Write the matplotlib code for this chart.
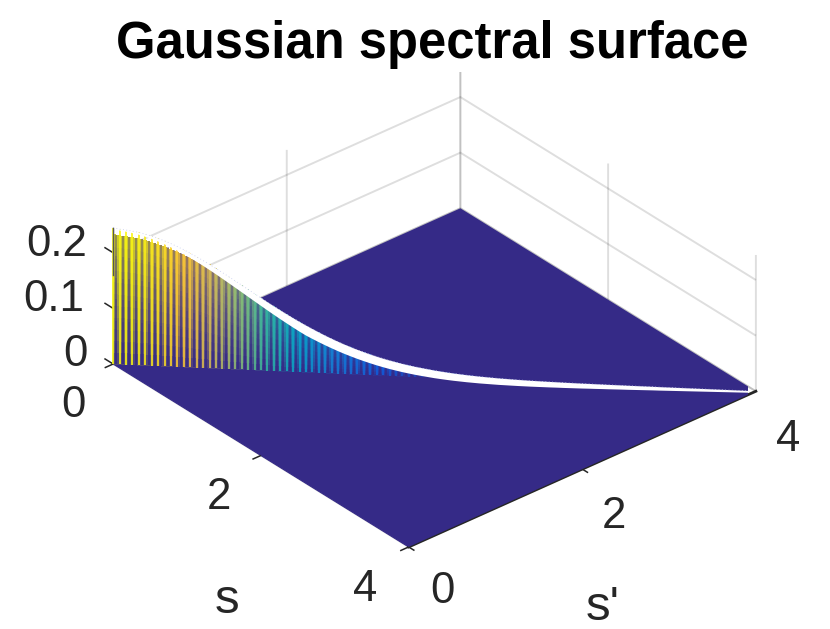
import numpy as np
import matplotlib
matplotlib.use('Agg')
import matplotlib.pyplot as plt
from matplotlib.colors import LinearSegmentedColormap, to_rgb
from mpl_toolkits.mplot3d.art3d import Line3DCollection, Poly3DCollection

# height of the ridge along s = s', read every 0.04 from 0 to 4
ridge = [0.2450, 0.2430, 0.2419, 0.2404, 0.2385, 0.2359, 0.2329, 0.2293, 0.2253, 0.2208,
         0.2159, 0.2106, 0.2050, 0.1990, 0.1928, 0.1863, 0.1796, 0.1727, 0.1657, 0.1586,
         0.1515, 0.1443, 0.1372, 0.1301, 0.1230, 0.1161, 0.1093, 0.1027, 0.0962, 0.0899,
         0.0839, 0.0781, 0.0725, 0.0671, 0.0620, 0.0571, 0.0525, 0.0482, 0.0441, 0.0403,
         0.0367, 0.0333, 0.0302, 0.0273, 0.0247, 0.0222, 0.0200, 0.0179, 0.0161, 0.0144,
         0.0127, 0.0113, 0.0100, 0.0088, 0.0078, 0.0068, 0.0060, 0.0052, 0.0046, 0.0040,
         0.0034, 0.0030, 0.0026, 0.0022, 0.0019, 0.0016, 0.0014, 0.0012, 0.0010, 0.0009,
         0.0007, 0.0006, 0.0005, 0.0004, 0.0004, 0.0003, 0.0003, 0.0002, 0.0002, 0.0002,
         0.0001, 0.0001, 0.0001, 0.0001, 0.0001, 0.0000, 0.0000, 0.0000, 0.0000, 0.0000,
         0.0000, 0.0000, 0.0000, 0.0000, 0.0000, 0.0000, 0.0000, 0.0000, 0.0000, 0.0000,
         0.0000]
s_ticks = [0, 2, 4]
z_ticks = [0, 0.1, 0.2]
s_tick_labels = ['0', '2', '4']
z_tick_labels = ['0', '0.1', '0.2']
parula_colors = ['#352a87', '#0f5cdd', '#1481d6', '#06a4ca', '#2eb7a4',
                 '#87bf77', '#d1bb59', '#fec832', '#f9fb0e']

plt.rcParams['font.family'] = ['Liberation Sans', 'DejaVu Sans']
plt.rcParams['grid.color'] = (0, 0, 0, 0.13)
plt.rcParams['grid.linewidth'] = 1.4
plt.rcParams['axes.edgecolor'] = '#262626'

parula = LinearSegmentedColormap.from_list('parula', parula_colors)
floor_color = parula_colors[0]
text_color = '#262626'

ridge = np.array(ridge)
s = np.linspace(0, 4, len(ridge))
zmax = ridge.max()

fig = plt.figure(figsize=(8.3, 6.29), dpi=100)
ax = fig.add_axes([103.3 / 830, -11.7 / 629, 645 / 830, 645 / 629],
                  projection='3d', proj_type='ortho', computed_zorder=False)
ax.view_init(elev=31.8, azim=-40.4)
ax.set_box_aspect((455, 455, 160))

# flat part of the surface
X, Y = np.meshgrid([0, 4], [0, 4])
ax.plot_surface(X, Y, np.zeros_like(X, dtype=float), color=floor_color, shade=False,
                linewidth=0, antialiased=True, zorder=1)

# wall under the ridge, mixed with the floor colour towards the base
frac = np.linspace(0, 0.95, 12)
wall_s = np.tile(s, (len(frac), 1))
wall_z = np.outer(frac, ridge)
wall_rgb = parula(ridge[:-1] / zmax)[:, :3]
mix = (0.15 + 0.7 * frac[:-1] ** 0.7)[:, None, None]
wall_faces = np.ones((len(frac) - 1, len(s) - 1, 4))
wall_faces[..., :3] = mix * wall_rgb[None, :, :] + (1 - mix) * np.array(to_rgb(floor_color))
ax.plot_surface(wall_s, wall_s, wall_z, facecolors=wall_faces, shade=False,
                rstride=1, cstride=1, linewidth=0, antialiased=False, zorder=2)

# spikes, with the floor showing between them, fading out upwards
mid = s[:-1] + 0.02
dark_steps = np.linspace(0, 0.95, 7)
for lo, hi in zip(dark_steps[:-1], dark_steps[1:]):
    dark = [[(a, a, lo * h), (a, a, hi * h)] for a, h in zip(mid, ridge[:-1])]
    ax.add_collection3d(Line3DCollection(dark, colors=floor_color, linewidths=1.4,
                                         alpha=0.9 - 0.65 * lo, zorder=3))
spikes = [[(a, a, 0), (a, a, h)] for a, h in zip(s, ridge)]
ax.add_collection3d(Line3DCollection(spikes, colors=parula(ridge / zmax), linewidths=1.2, zorder=4))

# white band along the top
band = np.interp(s, [0, 1.2, 4], [0.002, 0.018, 0.003])
top = list(zip(s, s, ridge))
bottom = list(zip(s, s, ridge - band))
ax.add_collection3d(Poly3DCollection([top + bottom[::-1]], facecolors='white', edgecolors='none', zorder=5))
ax.plot(s, s, ridge, color='#c5cbee', lw=0.6, ls=(0, (1, 3)), zorder=6)
ax.plot([0, 0], [0, 0], [0.16, zmax], color='#555555', lw=1.0, zorder=7)

# tick stubs, drawn by hand because the mplot3d ones point the wrong way
tick_style = dict(color=text_color, lw=1.1, zorder=0.5)
for t in s_ticks:
    ax.plot([t, t], [0, -0.09], [0, 0], **tick_style)
    ax.plot([4, 4.07], [t, t], [0, 0], **tick_style)
for t in z_ticks:
    ax.plot([0, -0.11], [0, 0], [t, t], **tick_style)

ax.set_xlim(0, 4)
ax.set_ylim(0, 4)
ax.set_zlim(0, zmax)
ax.set_xticks(s_ticks)
ax.set_yticks(s_ticks)
ax.set_zticks(z_ticks)
ax.set_xticklabels([])
ax.set_yticklabels([])
ax.set_zticklabels([])
ax.zaxis.set_ticks_position('lower')

for axis in (ax.xaxis, ax.yaxis, ax.zaxis):
    axis.set_pane_color((1, 1, 1, 0))
    axis.pane.set_edgecolor('none')
    axis._axinfo['tick']['inward_factor'] = 0.0
    axis._axinfo['tick']['outward_factor'] = 0.0
ax.xaxis.line.set_color(floor_color)
ax.yaxis.line.set_linewidth(2.0)


def put_text(label, x, y, size):
    # mplot3d resets label transforms on draw, so the labels sit in figure pixels
    fig.text(x / 830, 1 - y / 629, label, ha='center', va='baseline', fontsize=size, color=text_color)


for label, x, y in zip(s_tick_labels, [73, 219, 365], [417, 509, 600.7]):
    put_text(label, x, y, 31.5)
for label, x, y in zip(s_tick_labels, [442, 614, 788], [603, 528, 451]):
    put_text(label, x, y, 31.5)
for label, x, y in zip(z_tick_labels, [75, 54, 56.5], [366, 311, 256]):
    put_text(label, x, y, 31.5)
put_text('s', 227, 612.7, 35.5)
put_text("s'", 603, 620, 35.5)

fig.text(432.5 / 830, 1 - 58 / 629, 'Gaussian spectral surface', ha='center', va='baseline',
         fontsize=36.5, fontweight='bold', color='black')

fig.savefig('out.png', dpi=100)
